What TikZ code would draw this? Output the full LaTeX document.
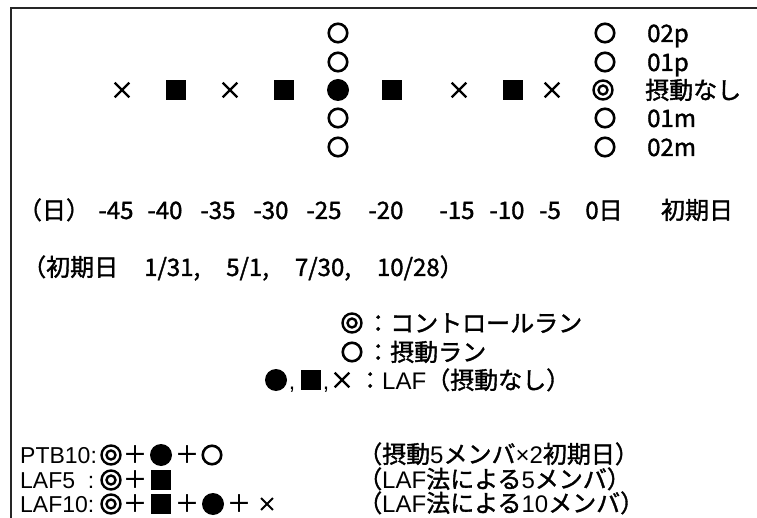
\documentclass[tikz,border=0pt]{standalone}
\usepackage{fontspec}
\setmainfont{Liberation Sans}
\newfontfamily\jp[FakeBold=1.5]{Noto Sans CJK JP}
\usetikzlibrary{shapes.misc}

\begin{document}
\begin{tikzpicture}[x=1pt, y=-1pt,
  every node/.style={inner sep=0pt, font=\fontsize{23}{27}\selectfont},
  jtext/.style={font=\fontsize{24}{28}\selectfont\jp},
  pert/.style={circle, draw, line width=2.6pt, minimum size=18.5pt},
  lafdot/.style={circle, fill, minimum size=22pt},
  lafsq/.style={rectangle, fill, minimum size=19.5pt},
  lafx/.style={cross out, draw, line width=2.2pt, minimum size=12.5pt},
  smallx/.style={cross out, draw, line width=1.8pt, minimum size=10pt},
  ctrl/.style={circle, draw, line width=2.4pt, minimum size=19pt,
    path picture={\draw[line width=2.4pt] (path picture bounding box.center) circle (4.5pt);}}]
  \useasboundingbox (0,0) rectangle (757,518);
  \draw[line width=2pt, black!85] (11,518) -- (11,8) -- (757,8);

  % LAF members on the time axis
  \node[lafx]   (x45) at (122,90) {};
  \node[lafsq]  (s40) at (176,90) {};
  \node[lafx]   (x35) at (230,90) {};
  \node[lafsq]  (s30) at (284,90) {};
  \node[lafdot] (b25) at (338,90) {};
  \node[lafsq]  (s20) at (392,90) {};
  \node[lafx]   (x15) at (459,90) {};
  \node[lafsq]  (s10) at (513,90) {};
  \node[lafx]   (x5)  at (552,90) {};
  \node[ctrl]   (c0)  at (603,90) {};

  % perturbed runs at -25 and 0
  \node[pert] (q2p) at (338,33)  {};
  \node[pert] (q1p) at (338,62)  {};
  \node[pert] (q1m) at (338,118) {};
  \node[pert] (q2m) at (338,147) {};
  \node[pert] (p2p) at (605,33)  {};
  \node[pert] (p1p) at (605,62)  {};
  \node[pert] (p1m) at (605,118) {};
  \node[pert] (p2m) at (605,147) {};

  \node[jtext, anchor=base west] (l2p) at (647,42)  {02p};
  \node[jtext, anchor=base west] (l1p) at (647,71)  {01p};
  \node[jtext, anchor=base west] (l0)  at (645,99)  {摂動なし};
  \node[jtext, anchor=base west] (l1m) at (647,127) {01m};
  \node[jtext, anchor=base west] (l2m) at (647,156) {02m};

  % day axis
  \node[jtext, anchor=base] (dunit) at (54,219)  {（日）};
  \node[jtext, anchor=base] (d45)   at (116,219) {-45};
  \node[jtext, anchor=base] (d40)   at (165,219) {-40};
  \node[jtext, anchor=base] (d35)   at (218,219) {-35};
  \node[jtext, anchor=base] (d30)   at (271,219) {-30};
  \node[jtext, anchor=base] (d25)   at (324,219) {-25};
  \node[jtext, anchor=base] (d20)   at (386,219) {-20};
  \node[jtext, anchor=base] (d15)   at (457,219) {-15};
  \node[jtext, anchor=base] (d10)   at (507,219) {-10};
  \node[jtext, anchor=base] (d5)    at (550,219) {-5};
  \node[jtext, anchor=base] (d0)    at (604,219) {0日};
  \node[jtext, anchor=base] (dinit) at (697,219) {初期日};

  \node[jtext, anchor=base west] (dates) at (22,276)
      {（初期日\hspace{26pt}1/31,\hspace{26pt}5/1,\hspace{26pt}7/30,\hspace{26pt}10/28）};

  % legend
  \node[ctrl]   (kc) at (352,323) {};
  \node[jtext, anchor=base west] (tc) at (366,332) {：コントロールラン};
  \node[pert]   (kp) at (352,352) {};
  \node[jtext, anchor=base west] (tp) at (366,361) {：摂動ラン};
  \node[lafdot] (kl1) at (276,380) {};
  \node[anchor=base] (kc1) at (292,389) {,};
  \node[lafsq]  (kl2) at (311,380) {};
  \node[anchor=base] (kc2) at (326,389) {,};
  \node[lafx]   (kl3) at (342,380) {};
  \node[jtext, anchor=base west] (tl) at (358,389)
      {：{\rmfamily LAF}（摂動なし）};

  % ensemble configurations
  \node[anchor=base west] (ptb) at (20,463) {PTB10:};
  \node[ctrl]   (ptb1) at (111,455) {};
  \node[jtext, anchor=base] (ptbp1) at (135,463) {＋};
  \node[lafdot] (ptb2) at (161,455) {};
  \node[jtext, anchor=base] (ptbp2) at (187,463) {＋};
  \node[pert]   (ptb3) at (212,455) {};
  \node[jtext, anchor=base west] (ptbn) at (358,463)
      {（摂動{\rmfamily 5}メンバ{\rmfamily ×2}初期日）};

  \node[anchor=base west] (laf5) at (20,488) {LAF5\ \ :};
  \node[ctrl]   (laf5a) at (111,480) {};
  \node[jtext, anchor=base] (laf5p) at (135,488) {＋};
  \node[lafsq]  (laf5b) at (161,480) {};
  \node[jtext, anchor=base west] (laf5n) at (358,488)
      {（{\rmfamily LAF}法による{\rmfamily 5}メンバ）};

  \node[anchor=base west] (laf10) at (20,512) {LAF10:};
  \node[ctrl]   (laf10a) at (111,504) {};
  \node[jtext, anchor=base] (laf10p1) at (135,512) {＋};
  \node[lafsq]  (laf10b) at (161,504) {};
  \node[jtext, anchor=base] (laf10p2) at (187,512) {＋};
  \node[lafdot] (laf10c) at (213,504) {};
  \node[jtext, anchor=base] (laf10p3) at (239,512) {＋};
  \node[smallx] (laf10d) at (267,504) {};
  \node[jtext, anchor=base west] (laf10n) at (358,512)
      {（{\rmfamily LAF}法による{\rmfamily 10}メンバ）};
\end{tikzpicture}
\end{document}
